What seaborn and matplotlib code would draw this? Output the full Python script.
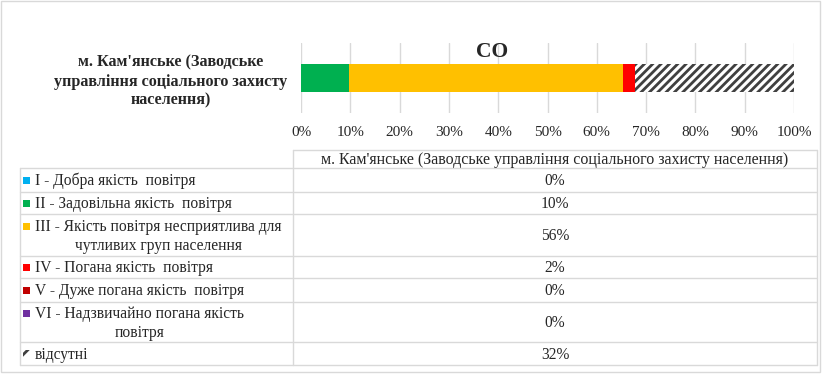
import matplotlib
matplotlib.use("Agg")
import matplotlib.pyplot as plt
import seaborn as sns
import numpy as np
import pandas as pd
from matplotlib.patches import Rectangle

# ---------------- data ----------------
station = "м. Кам'янське (Заводське\nуправління соціального захисту\nнаселення)"
station_header = "м. Кам'янське (Заводське управління соціального захисту населення)"
pollutant = "CO"
categories = [
    "I - Добра якість  повітря",
    "II - Задовільна якість  повітря",
    "III - Якість повітря несприятлива для\nчутливих груп населення",
    "IV - Погана якість  повітря",
    "V - Дуже погана якість  повітря",
    "VI - Надзвичайно погана якість\nповітря",
    "відсутні",
]
values = [0.0, 9.7, 55.7, 2.4, 0.0, 0.0, 32.2]
colors = ["#00B0F0", "#00B050", "#FFC000", "#FF0000", "#C00000", "#7030A0", "white"]
tick_values = [0, 10, 20, 30, 40, 50, 60, 70, 80, 90, 100]
tick_labels = ["0%", "10%", "20%", "30%", "40%", "50%", "60%", "70%", "80%", "90%", "100%"]

# ---------------- style ----------------
sns.set_theme(style="white")
plt.rcParams["font.family"] = ["Liberation Serif", "DejaVu Serif"]
plt.rcParams["hatch.linewidth"] = 2.0
plt.rcParams["hatch.color"] = "#404040"

W, H = 822, 380
fig = plt.figure(figsize=(W / 100, H / 100), dpi=100)

# chart axes in pixel geometry
x0, x1 = 301, 794
y0, y1 = 43, 113
ax = fig.add_axes([x0 / W, 1 - y1 / H, (x1 - x0) / W, (y1 - y0) / H])

cum = np.cumsum(values)
df = pd.DataFrame({"station": [station] * len(values), "cum": cum, "cat": categories})
# draw longest cumulative first so shorter ones overlay (stacked look)
for i in range(len(values) - 1, -1, -1):
    if values[i] <= 0:
        continue
    sub = df.iloc[[i]]
    sns.barplot(data=sub, x="cum", y="station", orient="h", color=colors[i],
                width=0.4, ax=ax, saturation=1, linewidth=0)
    p = ax.patches[-1]
    if categories[i] == "відсутні":
        p.set_hatch("////")
        p.set_facecolor("white")
        p.set_edgecolor("#404040")
        p.set_linewidth(0)

ax.set_xlim(0, 100)
ax.set_ylim(0.5, -0.5)
ax.set_xticks(tick_values)
ax.set_xticklabels(tick_labels, fontsize=11)
ax.tick_params(axis="x", length=0, pad=9)
ax.set_yticks([0])
ax.set_yticklabels([station], fontsize=11.6, fontweight="bold", ha="center",
                   multialignment="center", linespacing=1.25)
ax.tick_params(axis="y", length=0, pad=(x0 - 171) * 0.72)
for lab in ax.get_yticklabels():
    lab.set_y(0)
ax.set_xlabel("")
ax.set_ylabel("")
for s in ax.spines.values():
    s.set_visible(False)
ax.grid(axis="x", color="#D9D9D9", linewidth=1)
ax.set_axisbelow(True)

# ---------------- overlay (title, table, border) ----------------
ov = fig.add_axes([0, 0, 1, 1], zorder=-1)
ov.set_xlim(0, W)
ov.set_ylim(H, 0)
ov.axis("off")

fig.text(492 / W, 1 - 52 / H, pollutant, ha="center", va="center",
         fontsize=15.5, fontweight="bold")

lc = "#D9D9D9"
# border
ov.add_patch(Rectangle((1, 1), W - 3, 371, fill=False, edgecolor=lc, linewidth=1))

tl, tm, tr = 20, 293, 817
ytop = 149.5
rows = [168.3, 191.7, 214.3, 255.7, 278.3, 301.7, 342.3, 365.3]
ov.plot([tm, tr], [ytop, ytop], color=lc, lw=1)
for y in rows:
    ov.plot([tl, tr], [y, y], color=lc, lw=1)
ov.plot([tl, tl], [rows[0], rows[-1]], color=lc, lw=1)
ov.plot([tm, tm], [ytop, rows[-1]], color=lc, lw=1)
ov.plot([tr, tr], [ytop, rows[-1]], color=lc, lw=1)

ov.text((tm + tr) / 2, (ytop + rows[0]) / 2 + 1, station_header, ha="center", va="center",
        fontsize=11.5)

for i, cat in enumerate(categories):
    ya, yb = rows[i], rows[i + 1]
    yc = (ya + yb) / 2
    two = "\n" in cat
    # marker
    my = ya + 12 if two else yc
    if cat == "відсутні":
        ov.add_patch(Rectangle((23, my - 4), 7, 7, facecolor="white", edgecolor="#404040",
                               linewidth=0, hatch="///"))
    else:
        ov.add_patch(Rectangle((23, my - 3.5), 7, 7, facecolor=colors[i], edgecolor="none"))
    if two:
        ov.text(35, yc + 1.5, cat, ha="left", va="center", fontsize=11.2,
                multialignment="center", linespacing=1.2)
    else:
        ov.text(35, yc + 1, cat, ha="left", va="center", fontsize=11.2)
    ov.text((tm + tr) / 2, yc + 1, f"{round(values[i]):d}%", ha="center", va="center",
            fontsize=11.2)

fig.savefig("out.png", dpi=100)
